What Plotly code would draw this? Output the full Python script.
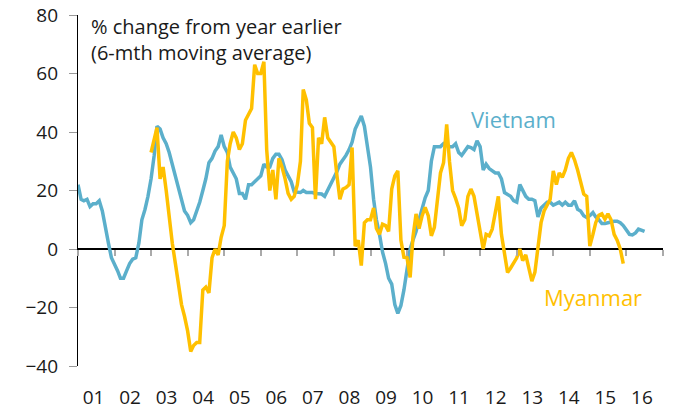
import pandas as pd
import plotly.graph_objects as go

# Monthly values, % change y/y (6-mth moving average)
vietnam_start = "2001-01-01"
vietnam = [22, 17, 16.5, 17, 14.5, 15.5, 15.5, 16.5, 13, 7, 2, -3,
           -5, -7.5, -10, -10, -7.5, -5, -3.5, -3, 2, 10, 13.5, 18,
           24, 32, 42, 41, 38, 36, 33, 29, 24, 20, 16.5, 13,
           11.5, 9, 10, 13, 16, 20, 24, 29.5, 31, 33.5, 35, 39,
           35, 33, 28, 26, 24, 19, 19, 17, 22, 22, 23, 24,
           25, 29, 28, 28, 31, 32.4, 32.4, 30.5, 27, 25, 23, 19.5,
           19.3, 19.3, 20, 19.3, 19.3, 19.3, 19, 19, 18.8, 18, 20, 22.5,
           24.5, 26.5, 29, 30.5, 32, 34, 36.5, 41, 43, 45.5, 42, 35,
           28, 17, 10, 5, -1, -5, -10, -12, -19, -22, -19.3, -14,
           -6, 0, 3, 6, 10, 14, 17.5, 20, 30, 35, 35, 35,
           36, 35.5, 35, 35, 36, 33, 32, 33.5, 35, 34.7, 34, 37,
           35, 27, 29, 27.5, 26.7, 26, 26, 24, 19.3, 18.5, 18, 16.5,
           16, 22, 20, 18, 17, 17, 16.5, 11, 14, 14.8, 16, 16,
           15, 15.5, 16, 15, 16, 15, 15, 16.5, 13.6, 13, 11.4, 10.8,
           11.4, 12.5, 11, 10, 8.7, 8.7, 9, 9.2, 9.5, 9.5, 9, 8,
           6.5, 5, 4.8, 5.5, 6.8, 6.5, 6]

myanmar_start = "2003-01-01"
myanmar = [33, 38, 41.5, 24, 28, 20, 10, 2, -5, -13, -19, -23,
           -28, -35, -33, -32, -32, -14, -13, -15, -3, 0, -2, 4,
           8, 30, 36, 40, 38, 34, 36, 44, 46, 48, 63, 60,
           60, 64, 34, 20, 27, 17, 31, 28, 24, 19, 17, 18,
           22, 30, 54.5, 51, 43, 41.5, 17, 38, 36, 45, 38, 36.5,
           35, 25, 17, 20.5, 21, 22, 34.7, 1, 3, -5.7, 9, 10,
           10, 14, 7, 5, 8.5, 8, 6, 20.5, 25, 26.7, 3, -2.8,
           -3, -9.7, 4, 12, 7, 11.4, 14.2, 11.4, 4.5, 7.4, 16, 26,
           29.5, 42.6, 30, 20, 17.3, 14, 8, 10, 18, 20.5, 18, 12,
           5, 0, 5, 4.5, 6.8, 13, 18, 5, -1, -8, -6.5, -4.5,
           -3, 0, -4, -2, -6, -11, -8, 0, 9, 13, 15, 17,
           26.7, 22, 26, 24.5, 27, 31, 33, 30.5, 27, 22.7, 18.8, 18,
           1, 5, 9, 11.5, 12, 10.2, 12, 10, 5, 3, 0, -5]

year_labels = ["01", "02", "03", "04", "05", "06", "07", "08",
               "09", "10", "11", "12", "13", "14", "15", "16"]

vn_dates = pd.date_range(vietnam_start, periods=len(vietnam), freq="MS")
mm_dates = pd.date_range(myanmar_start, periods=len(myanmar), freq="MS")
label_pos = [f"20{y}-06-05" for y in year_labels]
year_ticks = [f"{2001 + k}-01-01" for k in range(len(year_labels) + 1)]

FONT = "Open Sans"
TXT = "#1a1a1a"
VN_COLOR = "#5BAFCB"
MM_COLOR = "#FFC000"

fig = go.Figure()
fig.add_trace(go.Scatter(x=vn_dates, y=vietnam, mode="lines",
                         line=dict(color=VN_COLOR, width=3.5), name="Vietnam"))
fig.add_trace(go.Scatter(x=mm_dates, y=myanmar, mode="lines",
                         line=dict(color=MM_COLOR, width=3.5), name="Myanmar"))
# helper trace for the year-boundary tick axis sitting on the zero line
fig.add_trace(go.Scatter(x=[year_ticks[0]], y=[0], xaxis="x2", mode="lines",
                         line=dict(width=0), showlegend=False, hoverinfo="skip"))

xrange = [year_ticks[0], year_ticks[-1]]
fig.update_layout(
    width=675, height=413,
    margin=dict(l=78, r=12, t=15, b=47, autoexpand=False),
    plot_bgcolor="white", paper_bgcolor="white",
    showlegend=False,
    font=dict(family=FONT, color=TXT, size=19),
    xaxis=dict(range=xrange, type="date", tickvals=label_pos, ticktext=year_labels,
               ticks="outside", ticklen=14, tickcolor="rgba(0,0,0,0)",
               showline=False, showgrid=False, zeroline=False, automargin=False,
               tickfont=dict(size=19)),
    xaxis2=dict(range=xrange, type="date", overlaying="x", anchor="free",
                position=1/3, tickvals=year_ticks, ticks="outside", ticklen=6,
                tickcolor="#aaaaaa", tickwidth=1.5, showticklabels=False,
                showline=False, showgrid=False, zeroline=False, automargin=False),
    yaxis=dict(range=[-40, 80], tickvals=[-40, -20, 0, 20, 40, 60, 80],
               ticks="outside", ticklen=8, tickcolor="#999999",
               ticklabelstandoff=7, ticklabeloverflow="allow",
               showline=True, linecolor="black", linewidth=1.2,
               showgrid=False, zeroline=True, zerolinecolor="black",
               zerolinewidth=1.5, automargin=False, tickfont=dict(size=19)),
)

fig.add_annotation(xref="paper", yref="paper", x=0.018, y=1.01, xanchor="left",
                   yanchor="top", align="left", showarrow=False,
                   text="% change from year earlier<br>(6-mth moving average)",
                   font=dict(size=20, color=TXT))
fig.add_annotation(x="2012-12-01", y=44.3, text="Vietnam", showarrow=False,
                   font=dict(size=22, color=VN_COLOR))
fig.add_annotation(x="2015-02-01", y=-16.4, text="Myanmar", showarrow=False,
                   font=dict(size=22, color=MM_COLOR))

fig.write_html("out.html", config={"displayModeBar": False},
               post_script="document.body.style.margin='0';document.body.style.overflow='hidden';")
